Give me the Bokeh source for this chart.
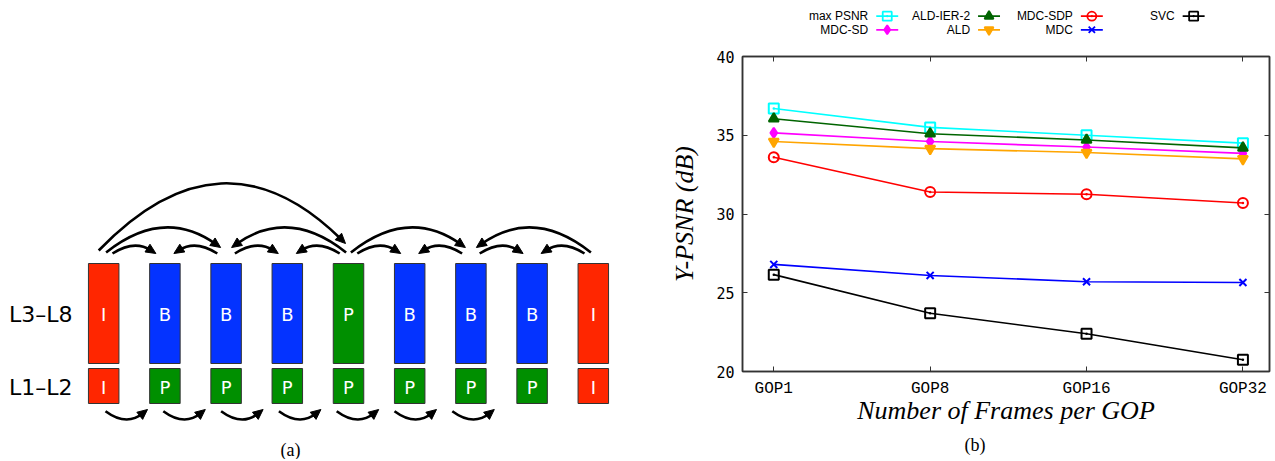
import math
from bokeh.plotting import figure
from bokeh.layouts import row, column
from bokeh.models import Range1d, FixedTicker, LinearAxis, Title, CustomLabelingPolicy
from bokeh.embed import file_html
from bokeh.resources import INLINE
from bokeh.core.properties import value

# ---------------- data: panel (b) ----------------
gops = ["GOP1", "GOP8", "GOP16", "GOP32"]
max_psnr = [36.7, 35.5, 35.0, 34.5]
mdc_sd = [35.15, 34.6, 34.25, 33.85]
ald_ier2 = [36.05, 35.1, 34.7, 34.2]
ald = [34.6, 34.15, 33.9, 33.5]
mdc_sdp = [33.6, 31.4, 31.25, 30.7]
mdc = [26.8, 26.1, 25.7, 25.65]
svc = [26.15, 23.7, 22.4, 20.75]

series_names = ["max PSNR", "MDC-SD", "ALD-IER-2", "ALD", "MDC-SDP", "MDC", "SVC"]
series_values = [max_psnr, mdc_sd, ald_ier2, ald, mdc_sdp, mdc, svc]
series_colors = ["#00ffff", "#ff00ff", "#006400", "#ffa500", "#ff0000", "#0000ff", "#000000"]
series_markers = ["square_dot", "diamond", "triangle", "inverted_triangle", "circle_dot", "x", "square_dot"]
series_filled = [False, True, True, True, False, False, False]

# ---------------- data: panel (a) ----------------
top_types = ["I", "B", "B", "B", "P", "B", "B", "B", "I"]
bottom_types = ["I", "P", "P", "P", "P", "P", "P", "P", "I"]
top_refs = [(0, 4), (0, 2), (4, 2), (4, 6), (8, 6),
            (0, 1), (2, 1), (2, 3), (4, 3), (4, 5), (6, 5), (6, 7), (8, 7)]
bottom_refs = [(0, 1), (1, 2), (2, 3), (3, 4), (4, 5), (5, 6), (6, 7)]
type_colors = {"I": "#ff2600", "B": "#0433ff", "P": "#008f00"}
row_labels = ["L3\u2013L8", "L1\u2013L2"]

TOTAL_W, TOTAL_H = 1273, 459

# ================= panel (a): diagram =================
W_A, H_A = 658, TOTAL_H
pa = figure(width=W_A, height=H_A, x_range=Range1d(0, W_A), y_range=Range1d(H_A, 0),
            output_backend="svg", toolbar_location=None, min_border=0)
pa.axis.visible = False
pa.grid.visible = False
pa.outline_line_color = None

X0, DX, RW = 103.2, 61.2, 30.5
TOP_Y0, TOP_Y1 = 263, 363
BOT_Y0, BOT_Y1 = 368, 403

def cx(i):
    return X0 + i * DX

for types, y0, y1 in [(top_types, TOP_Y0, TOP_Y1), (bottom_types, BOT_Y0, BOT_Y1)]:
    xs = [cx(i) for i in range(len(types))]
    pa.quad(left=[x - RW / 2 for x in xs], right=[x + RW / 2 for x in xs],
            top=[y0] * len(xs), bottom=[y1] * len(xs),
            fill_color=[type_colors[t] for t in types], line_color="#333333", line_width=1)
    pa.text(x=xs, y=[(y0 + y1) / 2 + 1] * len(xs), text=types, text_align="center",
            text_baseline="middle", text_color="white", text_font=value("DejaVu Sans"),
            text_font_size="18px")

pa.text(x=[72, 72], y=[314, 387], text=row_labels, text_align="right", text_baseline="middle",
        text_color="black", text_font=value("DejaVu Sans"), text_font_size="22px")

# arc styling by distance: (start offset, end offset, y start, y tip, apex)
arc_style = {1: (8.8, 9.0, 253, 253, 246),
             2: (2.4, 5.5, 252, 247, 228),
             4: (-5.0, 3.0, 250, 243, 184)}

curves = {"x0": [], "y0": [], "x1": [], "y1": [], "cx": [], "cy": []}
heads_x, heads_y = [], []
AL, AW = 10.0, 4.6

def add_arrow(x0, y0, x1, y1, apex):
    ccx = (x0 + x1) / 2
    ccy = (4 * apex - y0 - y1) / 2
    dx, dy = x1 - ccx, y1 - ccy
    n = math.hypot(dx, dy)
    ux, uy = dx / n, dy / n
    ex, ey = x1 - ux * AL * 0.6, y1 - uy * AL * 0.6
    curves["x0"].append(x0); curves["y0"].append(y0)
    curves["x1"].append(ex); curves["y1"].append(ey)
    curves["cx"].append(ccx); curves["cy"].append(ccy)
    bx, by = x1 - ux * AL, y1 - uy * AL
    px, py = -uy, ux
    heads_x.append([x1, bx + px * AW, bx - px * AW])
    heads_y.append([y1, by + py * AW, by - py * AW])

for s, d in top_refs:
    dist = abs(d - s)
    so, eo, ys, yt, apex = arc_style[dist]
    direc = 1 if d > s else -1
    add_arrow(cx(s) + direc * so, ys, cx(d) - direc * eo, yt, apex)

for s, d in bottom_refs:
    off = 1.8 - 3.4 * s
    add_arrow(cx(s) + off, 410.7, cx(s) + off + 42, 409, 418)

pa.quadratic(x0=curves["x0"], y0=curves["y0"], x1=curves["x1"], y1=curves["y1"],
             cx=curves["cx"], cy=curves["cy"], line_color="black", line_width=2.6)
pa.patches(xs=heads_x, ys=heads_y, fill_color="black", line_color="black", line_width=1)

pa.text(x=[290], y=[449], text=["(a)"], text_align="center", text_baseline="middle",
        text_font=value("Liberation Serif"), text_font_size="18px", text_color="black")

# ================= panel (b): legend strip =================
W_B = TOTAL_W - W_A
H_L = 48
FRAME_L, FRAME_R, FRAME_T, FRAME_B = 742, 1270, 56, 372
pl = figure(width=W_B, height=H_L, x_range=Range1d(FRAME_L, FRAME_R), y_range=Range1d(H_L, 0),
            output_backend="svg", toolbar_location=None,
            min_border_left=FRAME_L - W_A, min_border_right=TOTAL_W - FRAME_R,
            min_border_top=0, min_border_bottom=0)
pl.axis.visible = False
pl.grid.visible = False
pl.outline_line_color = None

col_right = [868, 970, 1073, 1175]
row_y = [15.7, 29.3]
for k, name in enumerate(series_names):
    c, r = k // 2, k % 2
    tx, ty = col_right[c], row_y[r]
    pl.text(x=[tx], y=[ty], text=[name], text_align="right", text_baseline="middle",
            text_font=value("Liberation Sans"), text_font_size="12px", text_color="black")
    pl.line(x=[tx + 8, tx + 30], y=[ty, ty], line_color=series_colors[k], line_width=1.8)
    pl.scatter(x=[tx + 19], y=[ty], marker=series_markers[k], size=9,
               line_color=series_colors[k], line_width=1.8,
               fill_color=series_colors[k] if series_filled[k] else None)

# ================= panel (b): chart =================
H_C = TOTAL_H - H_L
pc = figure(width=W_B, height=H_C, x_range=Range1d(-0.2, 3.17), y_range=Range1d(20, 40),
            output_backend="svg", toolbar_location=None,
            min_border_left=FRAME_L - W_A, min_border_right=TOTAL_W - FRAME_R,
            min_border_top=FRAME_T - H_L, min_border_bottom=TOTAL_H - FRAME_B)
pc.grid.visible = False
pc.outline_line_color = "#333333"
pc.outline_line_width = 1.5

xs = list(range(len(gops)))
for k in range(len(series_names)):
    pc.line(x=xs, y=series_values[k], line_color=series_colors[k], line_width=1.6)
    pc.scatter(x=xs, y=series_values[k], marker=series_markers[k], size=10,
               line_color=series_colors[k], line_width=2,
               fill_color=series_colors[k] if series_filled[k] else None)

xt = FixedTicker(ticks=xs, minor_ticks=[])
yt = FixedTicker(ticks=[20, 25, 30, 35, 40], minor_ticks=[])

for ax in pc.xaxis:
    ax.ticker = xt
    ax.major_label_overrides = {i: g for i, g in enumerate(gops)}
    ax.major_label_text_font = "Liberation Mono"
    ax.major_label_text_font_size = "16px"
    ax.major_label_text_color = "black"
    ax.major_label_standoff = 8
    ax.axis_label = "Number of Frames per GOP"
    ax.axis_label_text_font = "Liberation Serif"
    ax.axis_label_text_font_style = "italic"
    ax.axis_label_text_font_size = "26px"
    ax.axis_label_text_color = "black"
    ax.axis_label_standoff = -5

for ax in pc.yaxis:
    ax.ticker = yt
    ax.major_label_text_font = "DejaVu Sans Mono"
    ax.major_label_text_font_size = "15px"
    ax.major_label_text_color = "black"
    ax.major_label_standoff = 8
    ax.axis_label = "Y-PSNR (dB)"
    ax.axis_label_text_font = "Liberation Serif"
    ax.axis_label_text_font_style = "italic"
    ax.axis_label_text_font_size = "26px"
    ax.axis_label_text_color = "black"
    ax.axis_label_standoff = 14

for ax in list(pc.xaxis) + list(pc.yaxis):
    ax.major_tick_in = 5
    ax.major_tick_out = 0
    ax.minor_tick_in = 0
    ax.minor_tick_out = 0
    ax.axis_line_color = "#333333"
    ax.axis_line_width = 1.5
    ax.major_tick_line_color = "#333333"
    ax.major_tick_line_width = 1

no_labels = CustomLabelingPolicy(code="for (const i of indices) { indices.unset(i) }")
for loc, ticker in [("right", yt), ("above", xt)]:
    m = LinearAxis(ticker=ticker)
    m.major_label_policy = no_labels
    m.major_label_text_font_size = "1px"
    m.major_label_standoff = 0
    m.major_tick_in = 5
    m.major_tick_out = 0
    m.minor_tick_in = 0
    m.minor_tick_out = 0
    m.axis_line_color = "#333333"
    m.axis_line_width = 1.5
    m.major_tick_line_color = "#333333"
    pc.add_layout(m, loc)

pc.add_layout(Title(text="(b)", align="left", offset=975 - FRAME_L - 11, standoff=10,
                    text_font="Liberation Serif", text_font_size="18px",
                    text_font_style="normal", text_color="black"), "below")

layout = row(pa, column(pl, pc))
open("out.html", "w").write(file_html(layout, INLINE))
